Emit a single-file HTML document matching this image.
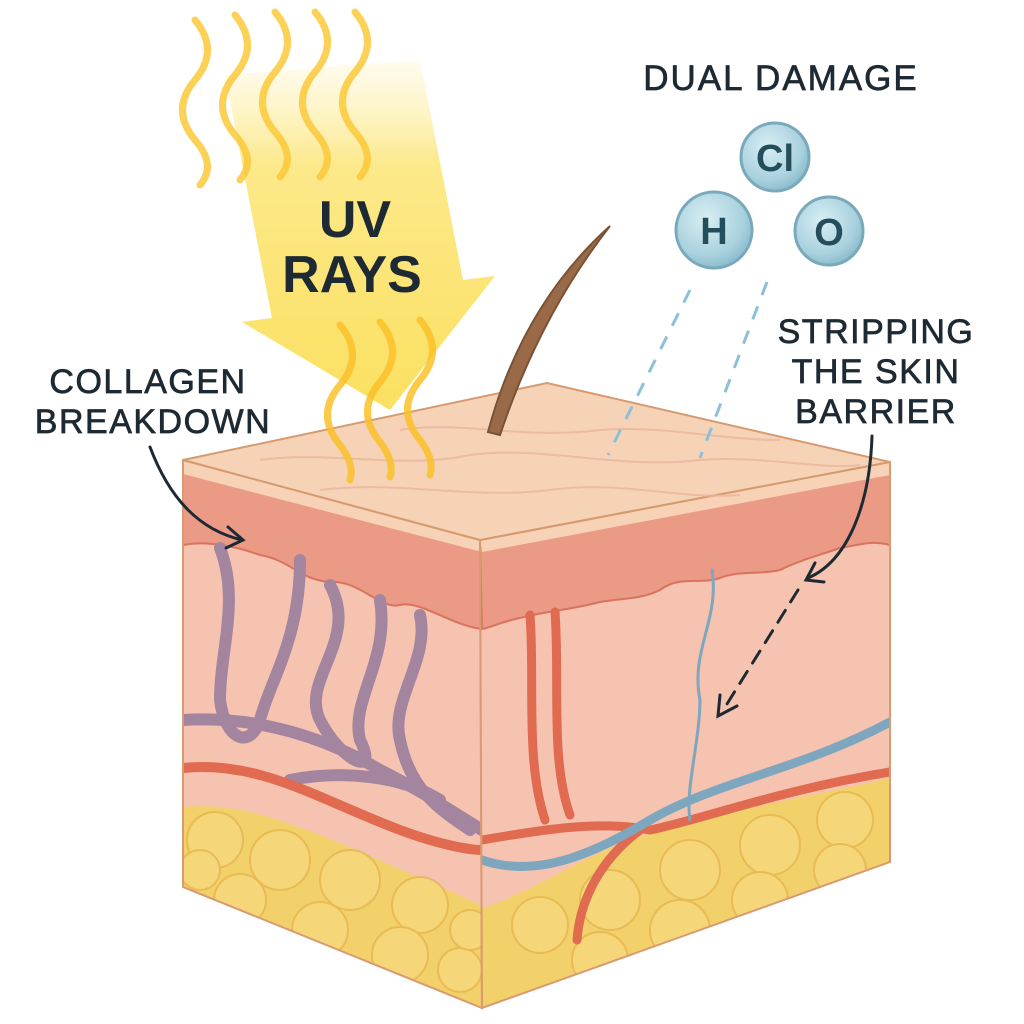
<!DOCTYPE html>
<html><head><meta charset="utf-8"><style>
html,body{margin:0;padding:0;background:#fff}
svg{display:block}
text{font-family:"Liberation Sans","DejaVu Sans",sans-serif;fill:#1e2a33}
.lbl{stroke:#1e2a33;stroke-width:0.7}
</style></head><body>
<svg width="1024" height="1024" viewBox="0 0 1024 1024" xmlns="http://www.w3.org/2000/svg">
<defs>
<linearGradient id="arr" x1="0" y1="0" x2="0" y2="1">
<stop offset="0" stop-color="#fdf0b0" stop-opacity="0.2"/>
<stop offset="0.3" stop-color="#fce98a"/>
<stop offset="1" stop-color="#fbe060"/>
</linearGradient>
<radialGradient id="mol" cx="0.4" cy="0.35" r="0.7">
<stop offset="0" stop-color="#d8eef4"/>
<stop offset="0.7" stop-color="#a9d1de"/>
<stop offset="1" stop-color="#86b8c9"/>
</radialGradient>
<clipPath id="leftc"><polygon points="183,460 480,540 482,1008 183,887"/></clipPath>
<clipPath id="rightc"><polygon points="480,540 890,462 890,862 482,1008"/></clipPath>
</defs>

<polygon points="225,75 420,60 463,280 495,276 390,410 242,322 272,318" fill="url(#arr)"/>
<g fill="none" stroke="#fbc93a" stroke-width="7" stroke-linecap="round" opacity="0.85">
<path d="M195,20 q25,30 0,60 q-25,30 0,60 q22,25 5,45"/>
<path d="M235,15 q25,30 0,60 q-25,30 0,60 q22,25 5,45"/>
<path d="M275,12 q25,30 0,60 q-25,30 0,60 q22,25 5,45"/>
<path d="M315,12 q25,30 0,60 q-25,30 0,60 q22,25 5,45"/>
<path d="M355,12 q25,30 0,60 q-25,30 0,60 q22,25 5,45"/>
</g>
<text x="355" y="237" font-size="52" font-weight="bold" text-anchor="middle">UV</text>
<text x="352" y="292" font-size="52" font-weight="bold" text-anchor="middle">RAYS</text>

<g clip-path="url(#leftc)">
<rect x="180" y="440" width="310" height="580" fill="#f6c3b0"/>
<path d="M183,807 C260,800 330,840 482,905 L482,1010 L183,1010Z" fill="#f2d06a"/>
<g fill="#f6d97e" stroke="#e6b650" stroke-width="2" opacity="0.8">
<circle cx="215" cy="840" r="28"/><circle cx="280" cy="860" r="30"/><circle cx="350" cy="880" r="30"/><circle cx="420" cy="905" r="28"/><circle cx="240" cy="900" r="26"/><circle cx="320" cy="930" r="28"/><circle cx="400" cy="955" r="28"/><circle cx="460" cy="970" r="22"/><circle cx="200" cy="870" r="20"/><circle cx="470" cy="930" r="20"/>
</g>
<path d="M183,465 L482,548 L482,629 C450,625 420,600 400,605 C380,610 360,580 330,582 C300,580 290,560 260,555 C240,548 210,540 183,545Z" fill="#eb9a85" stroke="#d9735d" stroke-width="2"/>
<path d="M183,460 L480,540 L482,552 L183,474Z" fill="#f7d2b6"/>
<g fill="none" stroke="#a4859f" stroke-width="12" stroke-linecap="round">
<path d="M220,548 C240,600 220,650 220,700 C225,740 250,750 260,720 C270,680 300,640 300,560"/>
<path d="M330,585 C360,640 300,680 320,720 C340,760 380,780 360,740 C350,700 390,660 380,600"/>
<path d="M420,615 C430,660 390,700 400,740 C410,790 440,810 470,830"/>
<path d="M183,720 C260,715 330,740 380,770 C420,790 450,810 482,830"/>
<path d="M290,780 C340,770 400,775 440,800"/>
</g>
<path d="M183,768 C260,760 320,800 400,830 C440,845 470,850 482,850" fill="none" stroke="#e06b50" stroke-width="10"/>
</g>
<polygon points="183,460 480,540 482,1008 183,887" fill="none" stroke="#d99a72" stroke-width="2"/>

<g clip-path="url(#rightc)">
<rect x="478" y="440" width="420" height="580" fill="#f6c3b0"/>
<path d="M482,909 C560,880 600,840 700,820 C780,800 840,790 890,778 L890,880 L482,1010Z" fill="#f2d06a"/>
<g fill="#f6d97e" stroke="#e6b650" stroke-width="2" opacity="0.8">
<circle cx="540" cy="925" r="28"/><circle cx="610" cy="900" r="30"/><circle cx="690" cy="870" r="30"/><circle cx="770" cy="845" r="30"/><circle cx="845" cy="820" r="28"/><circle cx="600" cy="960" r="28"/><circle cx="680" cy="930" r="30"/><circle cx="760" cy="900" r="28"/><circle cx="840" cy="870" r="26"/>
</g>
<path d="M480,548 L890,470 L890,545 C870,540 860,545 840,548 C820,555 800,560 780,570 C760,575 740,570 720,578 C700,585 680,575 660,590 C640,600 620,598 600,602 C570,610 540,612 520,618 C500,622 490,628 482,629Z" fill="#eb9a85" stroke="#d9735d" stroke-width="2"/>
<path d="M480,537 L890,462 L890,475 L482,552Z" fill="#f7d2b6"/>
<g fill="none" stroke="#e06b50" stroke-width="9" stroke-linecap="round">
<path d="M530,615 C535,680 525,760 545,820"/>
<path d="M555,612 C560,680 550,760 570,815"/>
<path d="M482,840 C540,830 600,820 650,830 C700,820 780,790 890,772"/>
<path d="M640,830 C600,860 580,900 577,940"/>
</g>
<g fill="none" stroke="#7fa6bf" stroke-linecap="round">
<path d="M482,860 C540,880 600,850 650,820 C720,780 800,770 890,722" stroke-width="9"/>
<path d="M712,570 C720,620 690,650 700,700 C700,740 685,790 690,820" stroke-width="3"/>
</g>
</g>
<polygon points="480,540 890,462 890,862 482,1008" fill="none" stroke="#d99a72" stroke-width="2"/>

<polygon points="183,460 547,383 890,462 480,540" fill="#f6d3b6" stroke="#d59a70" stroke-width="2"/>
<g fill="none" stroke="#ecb59e" stroke-width="2" opacity="0.8">
<path d="M260,460 C330,450 400,470 470,455 C540,445 620,470 700,460 C760,455 820,470 860,465"/>
<path d="M320,490 C400,480 470,500 550,490 C620,480 680,500 740,495"/>
<path d="M400,430 C460,420 520,440 600,430 C660,425 720,440 780,440"/>
</g>

<path d="M488,432 C510,350 550,280 610,226 C560,290 525,360 500,435Z" fill="#9a6a48" stroke="#7a5236" stroke-width="2"/>

<g fill="none" stroke="#fbc12a" stroke-width="7" stroke-linecap="round" opacity="0.85">
<path d="M340,325 q25,30 0,60 q-25,30 0,60 q15,20 10,35"/>
<path d="M380,322 q25,30 0,60 q-25,30 0,60 q15,20 10,35"/>
<path d="M420,320 q25,30 0,60 q-25,30 0,60 q15,20 10,35"/>
</g>

<g stroke="#8cc0d8" stroke-width="3" stroke-dasharray="14,12" fill="none">
<line x1="690" y1="290" x2="608" y2="455"/>
<line x1="767" y1="282" x2="700" y2="458"/>
</g>

<g stroke="#7aa9bb" stroke-width="3" fill="url(#mol)">
<circle cx="775" cy="157" r="34"/>
<circle cx="714" cy="230" r="38"/>
<circle cx="829" cy="231" r="34"/>
</g>
<text x="775" y="171" font-size="38" font-weight="bold" text-anchor="middle" style="fill:#244e5c">Cl</text>
<text x="714" y="244" font-size="38" font-weight="bold" text-anchor="middle" style="fill:#244e5c">H</text>
<text x="829" y="245" font-size="38" font-weight="bold" text-anchor="middle" style="fill:#244e5c">O</text>

<text class="lbl" x="781" y="90" font-size="35" text-anchor="middle" letter-spacing="2">DUAL DAMAGE</text>
<text class="lbl" x="876" y="343" font-size="34" text-anchor="middle" letter-spacing="1.5">STRIPPING</text>
<text class="lbl" x="876" y="383" font-size="34" text-anchor="middle" letter-spacing="1.5">THE SKIN</text>
<text class="lbl" x="876" y="423" font-size="34" text-anchor="middle" letter-spacing="1.5">BARRIER</text>
<text class="lbl" x="148" y="393" font-size="34" text-anchor="middle" letter-spacing="1.5">COLLAGEN</text>
<text class="lbl" x="153" y="433" font-size="34" text-anchor="middle" letter-spacing="1.5">BREAKDOWN</text>

<g fill="none" stroke="#1e2a33" stroke-width="3" stroke-linecap="round">
<path d="M150,447 C170,500 200,530 242,540"/>
<path d="M228,527 L243,540 L226,548"/>
<path d="M872,436 C870,500 850,560 808,578"/>
<path d="M815,563 L806,580 L824,582"/>
<path d="M798,590 L722,712" stroke-dasharray="14,10"/>
<path d="M720,695 L718,716 L737,706"/>
</g>
</svg>
</body></html>
